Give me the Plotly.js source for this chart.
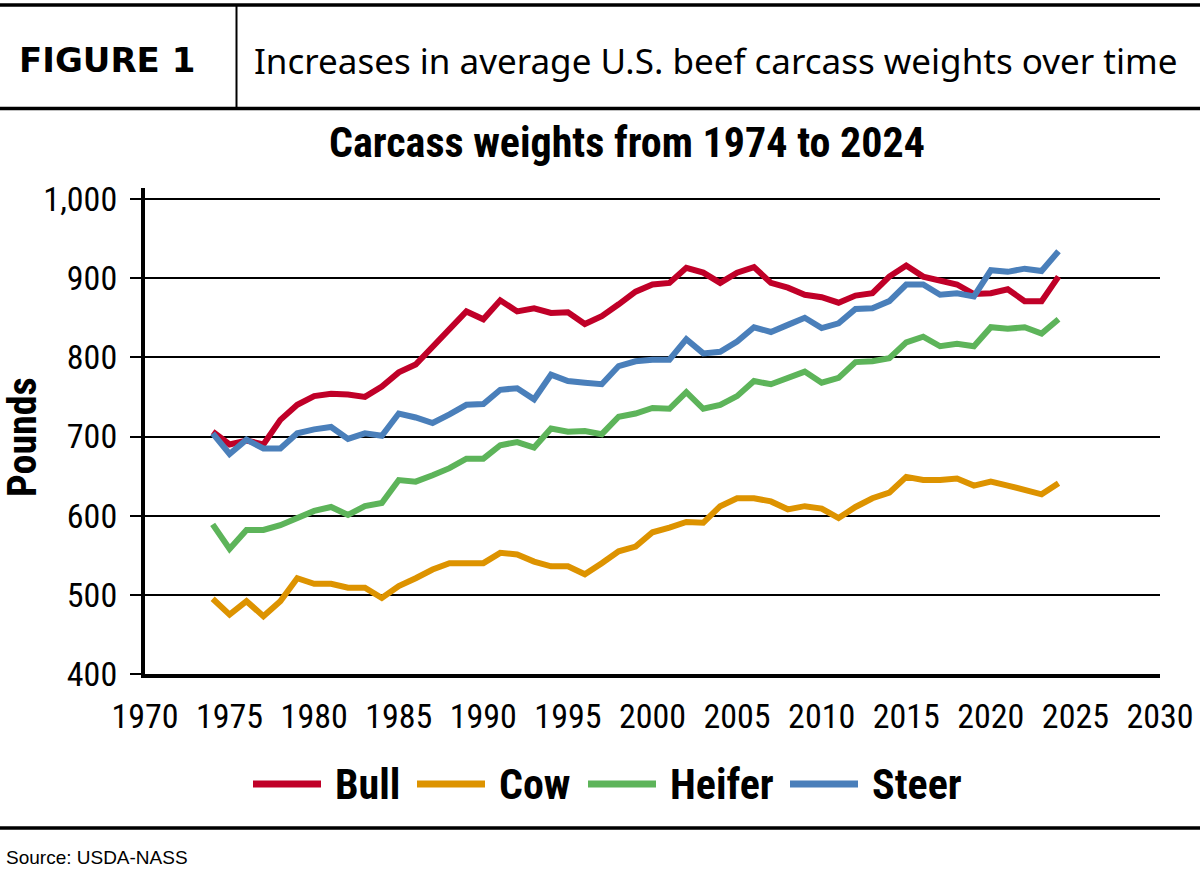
<!DOCTYPE html>
<html>
<head>
<meta charset="utf-8">
<script src="https://cdn.plot.ly/plotly-3.0.1.min.js"></script>
<style>
html,body{margin:0;padding:0;background:#fff;}
#chart{width:1200px;height:869px;}
</style>
</head>
<body>
<div id="chart"></div>
<script>
// ---- Data ----
const years = [1974,1975,1976,1977,1978,1979,1980,1981,1982,1983,1984,1985,1986,1987,1988,1989,1990,1991,1992,1993,1994,1995,1996,1997,1998,1999,2000,2001,2002,2003,2004,2005,2006,2007,2008,2009,2010,2011,2012,2013,2014,2015,2016,2017,2018,2019,2020,2021,2022,2023,2024];
const bull   = [706,690,695,690,721,740,751,754,753,750,763,781,791,814,837,858,848,872,858,862,856,857,842,852,867,883,892,894,913,907,894,907,914,894,888,879,876,869,878,881,902,916,902,897,892,880,881,886,871,871,902];
const cow    = [495,475,492,473,492,521,514,514,509,509,496,511,521,532,540,540,540,553,551,542,536,536,526,540,555,561,579,585,592,591,612,622,622,618,608,612,609,597,611,622,629,649,645,645,647,638,643,638,632,627,641];
const heifer = [589,558,582,582,588,597,606,611,601,612,616,645,643,651,660,672,672,689,693,686,710,706,707,703,725,729,736,735,756,735,740,751,770,766,774,782,768,774,794,795,799,819,826,814,817,814,838,836,838,830,848];
const steer  = [704,678,696,685,685,704,709,712,697,704,701,729,724,717,728,740,741,759,761,747,778,770,768,766,789,795,797,797,823,805,807,820,838,832,841,850,837,843,861,862,871,892,892,879,881,877,910,908,912,909,934];

const seriesNames  = ['Bull','Cow','Heifer','Steer'];
const seriesValues = [bull, cow, heifer, steer];
const seriesColors = ['#C00028','#DD9300','#5DB45A','#4A7FBA'];

const xTickVals = [1970,1975,1980,1985,1990,1995,2000,2005,2010,2015,2020,2025,2030];
const yTickVals = [400,500,600,700,800,900,1000];
const yTickText = ['400','500','600','700','800','900','1,000'];

const headerLabel = 'FIGURE 1';
const headerText  = 'Increases in average U.S. beef carcass weights over time';
const chartTitle  = 'Carcass weights from 1974 to 2024';
const yTitle      = 'Pounds';
const sourceText  = 'Source: USDA-NASS';

// ---- Layout geometry ----
const W = 1200, H = 869;
const ml = 145, mr = 40, mt = 188, mb = 195;
const pw = W - ml - mr, ph = H - mt - mb;
const yMax = 400 + 600 * ph / 475;
const px2x = px => (px - ml) / pw;
const py2y = py => (H - mb - py) / ph;

const NARROW = '"Roboto Condensed", "DejaVu Sans Condensed", sans-serif';

const traces = seriesNames.map((n, i) => ({
  x: years, y: seriesValues[i], name: n, type: 'scatter', mode: 'lines',
  line: {color: seriesColors[i], width: 6, shape: 'linear'},
  showlegend: false, hoverinfo: 'x+y+name'
}));

const shapes = [];
const annotations = [];
function hline(y, x0, x1, w, color) {
  shapes.push({type:'line', xref:'paper', yref:'paper', x0:px2x(x0), x1:px2x(x1), y0:py2y(y), y1:py2y(y), line:{color:color||'#000', width:w}});
}
function vline(x, y0, y1, w) {
  shapes.push({type:'line', xref:'paper', yref:'paper', x0:px2x(x), x1:px2x(x), y0:py2y(y0), y1:py2y(y1), line:{color:'#000', width:w}});
}
// header frame
hline(5, 0, 1200, 3.5);
hline(108.5, 0, 1200, 3.5);
vline(236.5, 5, 108.5, 2);
// bottom separator
hline(828, 0, 1200, 3.5);

annotations.push({xref:'paper', yref:'paper', x:px2x(107), y:py2y(60), xanchor:'center', yanchor:'middle', showarrow:false,
  text:headerLabel, font:{family:'"DejaVu Sans", sans-serif', size:34, color:'#000', weight:'bold'}});
annotations.push({xref:'paper', yref:'paper', x:px2x(252), y:py2y(60), xanchor:'left', yanchor:'middle', showarrow:false,
  text:headerText, font:{family:'"Noto Sans", sans-serif', size:35, color:'#000'}});
annotations.push({xref:'paper', yref:'paper', x:px2x(22), y:py2y(437), xanchor:'center', yanchor:'middle', showarrow:false, textangle:-90,
  text:yTitle, font:{family:NARROW, size:40, color:'#000', weight:'bold'}});
annotations.push({xref:'paper', yref:'paper', x:px2x(4), y:py2y(857), xanchor:'left', yanchor:'middle', showarrow:false,
  text:sourceText, font:{family:'"Liberation Sans", Arial, sans-serif', size:19, color:'#000'}});

// custom legend (long line symbols like the reference)
const legendLineStarts = [253, 417, 588, 790];
const legendLineLen = 68, legendY = 784;
seriesNames.forEach((n, i) => {
  const x0 = legendLineStarts[i];
  shapes.push({type:'line', xref:'paper', yref:'paper', x0:px2x(x0), x1:px2x(x0+legendLineLen), y0:py2y(legendY), y1:py2y(legendY),
    line:{color:seriesColors[i], width:7}});
  annotations.push({xref:'paper', yref:'paper', x:px2x(x0+legendLineLen+12), y:py2y(legendY), xanchor:'left', yanchor:'middle', showarrow:false,
    text:n, font:{family:NARROW, size:42, color:'#000', weight:'bold'}});
});

const layout = {
  width: W, height: H,
  margin: {l: ml, r: mr, t: mt, b: mb, pad: 0},
  paper_bgcolor: '#fff', plot_bgcolor: '#fff',
  showlegend: false,
  title: {text: chartTitle, xref:'container', yref:'container', x: 627/W, xanchor:'center', y: 1 - 142/H, yanchor:'middle',
    font: {family: NARROW, size: 42, color: '#000', weight: 'bold'}},
  xaxis: {range:[1970,2030], tickvals: xTickVals, ticktext: xTickVals.map(String), showgrid:false, zeroline:false,
    showline:true, linecolor:'#000', linewidth:3.5, ticks:'', ticklabelstandoff: 10,
    tickfont:{family:NARROW, size:34, color:'#000'}, fixedrange:true},
  yaxis: {range:[400, yMax], tickvals: yTickVals, ticktext: yTickText, showgrid:true, gridcolor:'#000', gridwidth:2,
    zeroline:false, showline:true, linecolor:'#000', linewidth:4, ticks:'outside', ticklen:11, tickwidth:2, tickcolor:'#000',
    ticklabelstandoff: 6, tickfont:{family:NARROW, size:34, color:'#000'}, fixedrange:true},
  shapes: shapes,
  annotations: annotations
};

Plotly.newPlot('chart', traces, layout, {displayModeBar:false, staticPlot:true});
</script>
</body>
</html>
